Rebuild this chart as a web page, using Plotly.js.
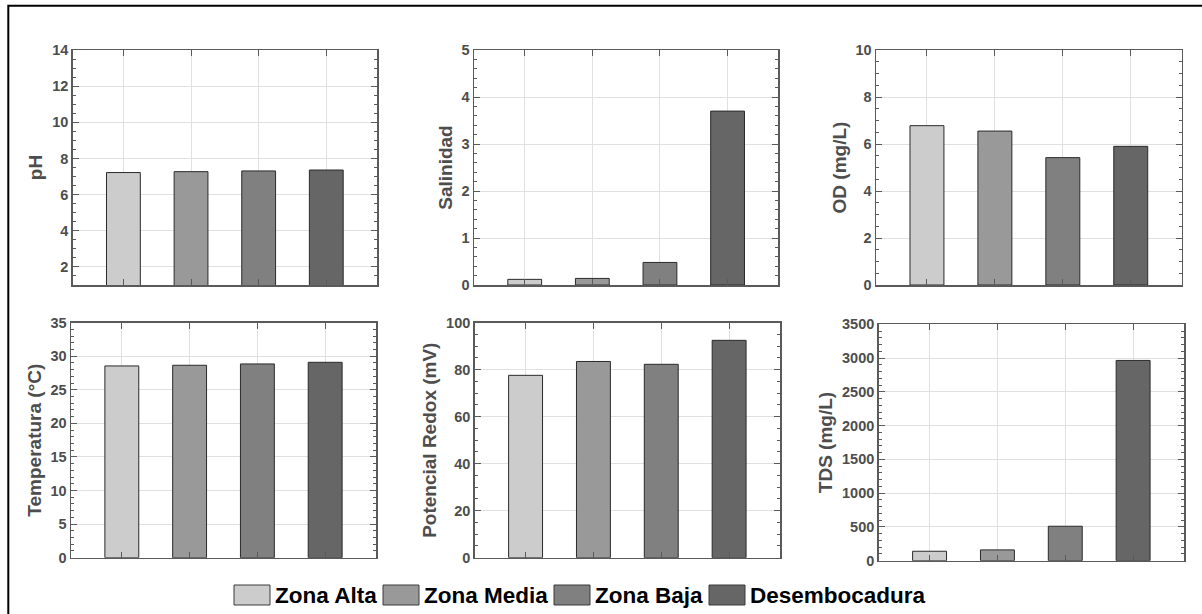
<!DOCTYPE html>
<html>
<head>
<meta charset="utf-8">
<script src="https://cdn.plot.ly/plotly-3.0.1.min.js"></script>
<style>html,body{margin:0;padding:0;background:#fff;}#chart{width:1202px;height:614px;}</style>
</head>
<body>
<div id="chart"></div>
<script>
// ---- data ----
const zones = ['Zona Alta', 'Zona Media', 'Zona Baja', 'Desembocadura'];
const zoneColors = ['#cccccc', '#999999', '#808080', '#666666'];

const pH = [7.22, 7.27, 7.31, 7.36];
const salinidad = [0.12, 0.14, 0.48, 3.70];
const od = [6.78, 6.55, 5.42, 5.90];
const temperatura = [28.56, 28.66, 28.86, 29.10];
const redox = [77.6, 83.5, 82.3, 92.5];
const tds = [140, 160, 510, 2965];

const panelTitles = ['pH', 'Salinidad', 'OD (mg/L)', 'Temperatura (°C)', 'Potencial Redox (mV)', 'TDS (mg/L)'];
const panelValues = [pH, salinidad, od, temperatura, redox, tds];
const yRanges = [[1, 14], [0, 5], [0, 10], [0, 35], [0, 100], [0, 3500]];
const yDticks = [2, 1, 2, 5, 20, 500];
const yMinor = [0.5, 0.2, 0.5, 1, 5, 100];

// ---- layout (pixel boxes of each panel) ----
const W = 1202, H = 614;
const boxes = [
  [72.7, 377, 50, 285],
  [474, 778.3, 50, 285],
  [876, 1181.7, 50, 285],
  [71, 376, 322.7, 557.7],
  [474.7, 780, 322.7, 557.7],
  [878.7, 1184, 324.3, 560.7]
];

const FONT = '"Liberation Sans", Arial, Helvetica, sans-serif';
const axisGray = '#5a5a5a';
const textGray = '#4d4d4d';

const traces = [];
const layout = {
  width: W, height: H, autosize: false,
  margin: {l: 0, r: 0, t: 0, b: 0},
  paper_bgcolor: '#ffffff', plot_bgcolor: '#ffffff',
  showlegend: false,
  font: {family: FONT, color: textGray},
  shapes: [], annotations: []
};

for (let i = 0; i < 6; i++) {
  const n = i === 0 ? '' : String(i + 1);
  const b = boxes[i];
  traces.push({
    type: 'bar',
    x: zones,
    y: panelValues[i],
    xaxis: 'x' + n, yaxis: 'y' + n,
    width: 0.5,
    marker: {color: zoneColors, line: {color: '#2a2a2a', width: 1}},
    hoverinfo: 'x+y'
  });
  layout['xaxis' + n] = {
    domain: [b[0] / W, b[1] / W],
    anchor: 'y' + n,
    type: 'category',
    range: [-0.75, 3.75],
    showticklabels: false,
    ticks: 'inside', ticklen: 6, tickwidth: 1, tickcolor: axisGray,
    showgrid: true, gridcolor: '#e0e0e0', gridwidth: 1,
    showline: true, linecolor: axisGray, linewidth: 1.5, mirror: 'ticks',
    zeroline: false, fixedrange: true
  };
  layout['yaxis' + n] = {
    domain: [1 - b[3] / H, 1 - b[2] / H],
    anchor: 'x' + n,
    range: yRanges[i],
    tick0: 0, dtick: yDticks[i],
    ticks: 'inside', ticklen: 6, tickwidth: 1, tickcolor: axisGray,
    minor: {dtick: yMinor[i], tick0: 0, ticks: 'inside', ticklen: 3, tickwidth: 1, tickcolor: axisGray, showgrid: false},
    tickfont: {family: FONT, size: 14.5, color: textGray, weight: 'bold'},
    showgrid: true, gridcolor: '#e0e0e0', gridwidth: 1,
    showline: true, linecolor: axisGray, linewidth: 1.5, mirror: 'ticks',
    zeroline: false, fixedrange: true,
    title: {text: panelTitles[i], font: {family: FONT, size: 19, color: textGray, weight: 'bold'}, standoff: 4}
  };
}

// ---- outer frame ----
layout.shapes.push({
  type: 'rect', xref: 'paper', yref: 'paper',
  x0: 8.3 / W, x1: 1.05, y0: -0.05, y1: 1 - 5.7 / H,
  line: {color: '#000000', width: 2}, fillcolor: 'rgba(0,0,0,0)', layer: 'below'
});

// ---- legend (built from zones / zoneColors) ----
const legendSwatchX = [234, 383, 554, 709];
const swW = 36, swTop = 585, swBot = 605;
zones.forEach((z, k) => {
  const x0 = legendSwatchX[k];
  layout.shapes.push({
    type: 'rect', xref: 'paper', yref: 'paper',
    x0: x0 / W, x1: (x0 + swW) / W, y0: 1 - swBot / H, y1: 1 - swTop / H,
    fillcolor: zoneColors[k], line: {color: '#3a3a3a', width: 1}
  });
  layout.annotations.push({
    xref: 'paper', yref: 'paper',
    x: (x0 + swW + 3) / W, y: 1 - (swTop + swBot) / 2 / H,
    xanchor: 'left', yanchor: 'middle', showarrow: false,
    text: z,
    font: {family: FONT, size: 22.5, color: '#000000', weight: 'bold'}
  });
});

Plotly.newPlot('chart', traces, layout, {displayModeBar: false, staticPlot: true});
</script>
</body>
</html>
